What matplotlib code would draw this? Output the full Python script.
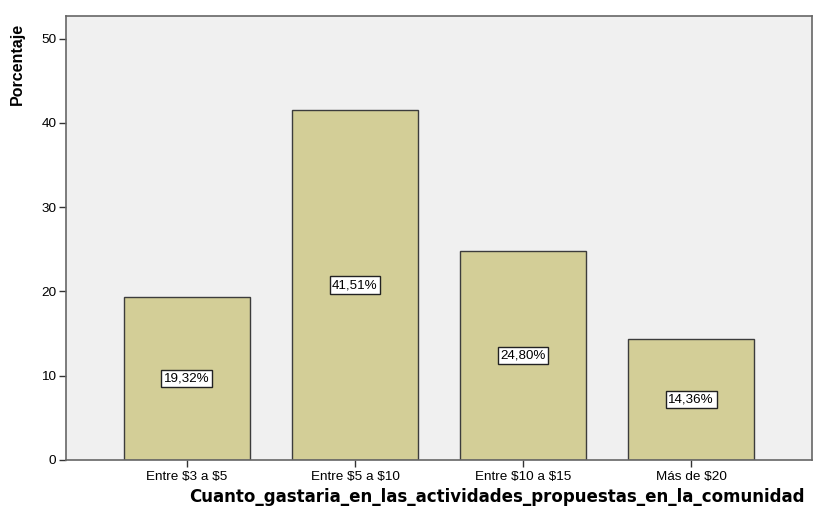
import os
import matplotlib
matplotlib.use("Agg")
import matplotlib.pyplot as plt
from matplotlib.font_manager import FontProperties

categories = ["Entre $3 a $5", "Entre $5 a $10", "Entre $10 a $15", "Más de $20"]
values = [19.32, 41.51, 24.80, 14.36]
labels = ["19,32%", "41,51%", "24,80%", "14,36%"]
yticks = [0, 10, 20, 30, 40, 50]

plt.rcParams['font.family'] = ['Liberation Sans', 'DejaVu Sans']
plt.rcParams['text.parse_math'] = False

fig = plt.figure(figsize=(8.15, 5.07), dpi=100)
ax = fig.add_axes([66/815, 1-460/507, (812-66)/815, (460-16)/507])
ax.set_facecolor('#F0F0F0')
x = list(range(len(categories)))
ax.bar(x, values, width=0.75, color='#D3CE97', edgecolor='#3C3C3C', linewidth=1.0, zorder=2)
for xi, v, lab in zip(x, values, labels):
    ax.text(xi, v/2, lab, ha='center', va='center', fontsize=9.6, color='black', zorder=3,
            bbox=dict(boxstyle='square,pad=0.2', facecolor='white', edgecolor='#222222', linewidth=1.0))
ax.set_xlim(-0.72, 3.72)
ax.set_ylim(0, 52.7)
ax.set_yticks(yticks)
ax.set_xticks(x)
ax.set_xticklabels(categories, fontsize=9.7)
ax.tick_params(axis='y', labelsize=9.7, length=5, width=1, color='#333333', pad=2)
ax.tick_params(axis='x', length=5, width=1, color='#333333', pad=3)
for s in ax.spines.values():
    s.set_color('#666666')
    s.set_linewidth(1.2)
ax.set_ylabel('Porcentaje', fontsize=11.5, fontweight='bold', fontstretch='condensed')
ax.yaxis.set_label_coords(-0.055, 0.892)

bold_path = os.path.join(matplotlib.get_data_path(), 'fonts', 'ttf', 'DejaVuSans-Bold.ttf')
if os.path.exists(bold_path):
    fp = FontProperties(fname=bold_path, size=12)
else:
    fp = FontProperties(family='DejaVu Sans', weight='bold', size=12)
fig.text(805/815, 1-497/507, 'Cuanto_gastaria_en_las_actividades_propuestas_en_la_comunidad',
         ha='right', va='center', fontproperties=fp)
fig.savefig('out.png', dpi=100)
